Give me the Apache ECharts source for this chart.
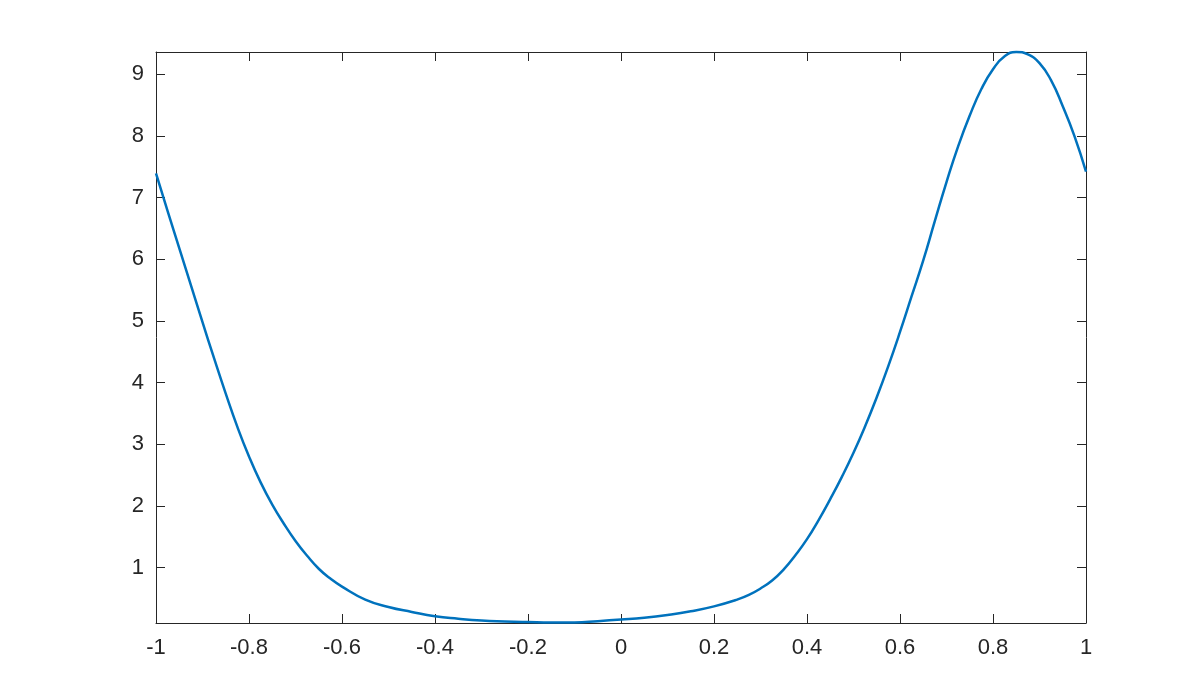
<!DOCTYPE html>
<html>
<head>
<meta charset="utf-8">
<title>Curve</title>
<script src="https://cdn.jsdelivr.net/npm/echarts@6/dist/echarts.min.js"></script>
<style>
  html, body { margin: 0; padding: 0; background: #ffffff; }
  #chart { width: 1200px; height: 700px; }
</style>
</head>
<body>
<div id="chart"></div>
<script>
// values
const xValues = [
  -1.000, -0.975, -0.950, -0.925, -0.900, -0.875, -0.850, -0.825, -0.800, -0.775,
  -0.750, -0.725, -0.700, -0.675, -0.650, -0.625, -0.600, -0.550, -0.500, -0.450,
  -0.400, -0.350, -0.300, -0.250, -0.200, -0.150, -0.100, -0.050, 0.000, 0.050,
  0.100, 0.150, 0.200, 0.250, 0.275, 0.300, 0.325, 0.350, 0.375, 0.400,
  0.425, 0.450, 0.475, 0.500, 0.525, 0.550, 0.575, 0.600, 0.625, 0.650,
  0.675, 0.700, 0.725, 0.750, 0.775, 0.800, 0.825, 0.850, 0.875, 0.900,
  0.925, 0.950, 0.975, 1.000
];
const yValues = [
  7.39, 6.78, 6.18, 5.58, 4.98, 4.39, 3.82, 3.28, 2.80, 2.38,
  2.02, 1.71, 1.43, 1.19, 0.98, 0.82, 0.69, 0.48, 0.36, 0.28,
  0.21, 0.17, 0.14, 0.125, 0.115, 0.108, 0.11, 0.13, 0.155, 0.185,
  0.23, 0.29, 0.37, 0.48, 0.555, 0.66, 0.79, 0.97, 1.20, 1.46,
  1.77, 2.11, 2.47, 2.86, 3.29, 3.76, 4.27, 4.82, 5.40, 5.98,
  6.62, 7.25, 7.83, 8.33, 8.76, 9.08, 9.29, 9.36, 9.32, 9.18,
  8.90, 8.48, 8.00, 7.42
];
const yTicks = [1, 2, 3, 4, 5, 6, 7, 8, 9];
const xRange = [-1, 1];
const yRange = [0.1, 9.36];

const AXIS_COLOR = '#262626';
const FONT = 'Liberation Sans, Arial, Helvetica, sans-serif';

function xAxisOf(position, showLabels) {
  return {
    type: 'value',
    position,
    min: xRange[0],
    max: xRange[1],
    interval: 0.2,
    axisLine: { show: true, onZero: false, lineStyle: { color: AXIS_COLOR, width: 1 } },
    axisTick: { show: true, inside: true, length: 9, lineStyle: { color: AXIS_COLOR, width: 1 } },
    axisLabel: {
      show: showLabels,
      color: AXIS_COLOR,
      fontFamily: FONT,
      fontSize: 22,
      margin: 14,
      showMinLabel: true,
      showMaxLabel: true
    },
    splitLine: { show: false }
  };
}

function yAxisOf(position, showLabels) {
  return {
    type: 'value',
    position,
    min: yRange[0],
    max: yRange[1],
    axisLine: { show: true, onZero: false, lineStyle: { color: AXIS_COLOR, width: 1 } },
    axisTick: {
      show: true,
      inside: true,
      length: 9,
      customValues: yTicks,
      lineStyle: { color: AXIS_COLOR, width: 1 }
    },
    axisLabel: {
      show: showLabels,
      customValues: yTicks,
      color: AXIS_COLOR,
      fontFamily: FONT,
      fontSize: 22,
      margin: 12
    },
    splitLine: { show: false }
  };
}

const chart = echarts.init(document.getElementById('chart'), null, { renderer: 'canvas' });

chart.setOption({
  animation: false,
  backgroundColor: '#ffffff',
  grid: { left: 156, right: 114, top: 52, bottom: 77, containLabel: false },
  xAxis: [xAxisOf('bottom', true), xAxisOf('top', false)],
  yAxis: [yAxisOf('left', true), yAxisOf('right', false)],
  series: [
    {
      type: 'line',
      xAxisIndex: 0,
      yAxisIndex: 0,
      data: xValues.map((x, i) => [x, yValues[i]]),
      smooth: 0.5,
      symbol: 'none',
      clip: false,
      lineStyle: { color: '#0072BD', width: 2.5 }
    }
  ]
});
</script>
</body>
</html>
